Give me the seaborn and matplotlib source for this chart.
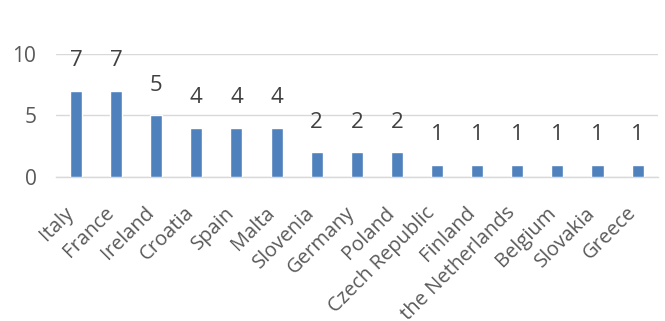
import matplotlib
matplotlib.use("Agg")
import matplotlib.pyplot as plt
import matplotlib.transforms as mtransforms
import seaborn as sns
import pandas as pd

countries = ["Italy", "France", "Ireland", "Croatia", "Spain", "Malta", "Slovenia",
             "Germany", "Poland", "Czech Republic", "Finland", "the Netherlands",
             "Belgium", "Slovakia", "Greece"]
counts = [7, 7, 5, 4, 4, 4, 2, 2, 2, 1, 1, 1, 1, 1, 1]
yticks = [0, 5, 10]

sns.set_theme(style="white")
plt.rcParams['font.family'] = ['Open Sans', 'DejaVu Sans']

df = pd.DataFrame({"country": countries, "count": counts})
fig = plt.figure(figsize=(6.65, 3.21), dpi=100)
ax = fig.add_axes([0.084, 0.449, 0.905, 0.383])
sns.barplot(data=df, x="country", y="count", color="#4F81BD", width=0.3,
            saturation=1, ax=ax, zorder=3)
ax.set_ylim(0, 10)
ax.set_xlim(-0.5, len(countries) - 0.5)
ax.set_yticks(yticks)
ax.yaxis.grid(True, color="#D9D9D9", linewidth=1, zorder=0)
for s in ["top", "right", "left"]:
    ax.spines[s].set_visible(False)
ax.spines["bottom"].set_color("#D9D9D9")
ax.spines["bottom"].set_linewidth(1)
ax.set_xlabel("")
ax.set_ylabel("")
ax.tick_params(axis="y", length=0, labelsize=15, labelcolor="#595959", pad=14)
ax.tick_params(axis="x", length=0, labelsize=14.5, labelcolor="#595959", pad=13)
offset = mtransforms.ScaledTranslation(-12 / 100, -8 / 100, fig.dpi_scale_trans)
for lbl in ax.get_xticklabels():
    lbl.set_rotation(45)
    lbl.set_ha("right")
    lbl.set_va("top")
    lbl.set_rotation_mode("anchor")
    lbl.set_transform(lbl.get_transform() + offset)
for c in ax.containers:
    ax.bar_label(c, labels=[str(v) for v in counts], padding=14, fontsize=16,
                 color="#404040")
fig.savefig("out.png", dpi=100)
